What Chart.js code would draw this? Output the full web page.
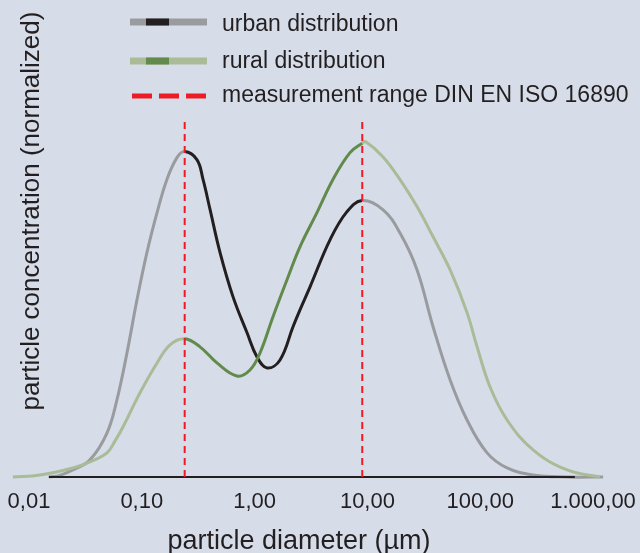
<!DOCTYPE html>
<html>
<head>
<meta charset="utf-8">
<title>particle size distribution</title>
<script src="https://cdn.jsdelivr.net/npm/chart.js@4/dist/chart.umd.min.js"></script>
<style>
  body { margin: 0; background: #d6dde9; }
  canvas { display: block; }
</style>
</head>
<body>
<canvas id="grafica" width="640" height="553"></canvas>
<script>
// x axis: particle diameter in µm (log scale)
const tickValues = [0.01, 0.1, 1, 10, 100, 1000];
const tickLabels = ['0,01', '0,10', '1,00', '10,00', '100,00', '1.000,00'];

const seriesNames = ['urban distribution', 'rural distribution', 'measurement range DIN EN ISO 16890'];
const xTitle = 'particle diameter (µm)';
const yTitle = 'particle concentration (normalized)';

// measurement range DIN EN ISO 16890 (µm)
const measurementRange = [0.24, 9.0];
const measurementHeight = 1.07;

// black base line (µm)
const baselineRange = [0.015, 690];

const urbanDiameter = [0.015, 0.0188, 0.0245, 0.0347, 0.0491, 0.0602, 0.0739, 0.0906, 0.111, 0.1365, 0.167, 0.205,
  0.24, 0.308, 0.349, 0.403, 0.494, 0.644, 0.857, 1.05, 1.29, 1.68, 2.19, 2.53, 3.10, 4.66, 6.59,
  9.0, 13.7, 19.4, 27.5, 38.2, 54.0, 76.4, 115, 173, 294, 589, 1228];
const urbanValue = [0, 0.005, 0.021, 0.051, 0.131, 0.230, 0.370, 0.528, 0.669, 0.788, 0.887, 0.952,
  0.970, 0.946, 0.887, 0.797, 0.669, 0.537, 0.430, 0.358, 0.325, 0.349, 0.448, 0.499, 0.567, 0.707, 0.791,
  0.824, 0.797, 0.728, 0.618, 0.448, 0.290, 0.170, 0.072, 0.027, 0.006, 0, 0];

const ruralDiameter = [0.0072, 0.0125, 0.0245, 0.0347, 0.0491, 0.0578, 0.0681, 0.0964, 0.1365, 0.178,
  0.24, 0.328, 0.464, 0.698, 0.910, 1.117, 1.456, 1.937, 2.53, 3.57, 4.95, 7.01,
  9.0, 9.6, 13.7, 19.4, 27.5, 38.2, 54.0, 76.4, 93.8, 122, 173, 294, 589, 1153];
const ruralValue = [0, 0.006, 0.027, 0.045, 0.072, 0.107, 0.149, 0.251, 0.340, 0.394,
  0.412, 0.388, 0.340, 0.301, 0.319, 0.370, 0.478, 0.588, 0.687, 0.788, 0.887, 0.967,
  0.995, 1.0, 0.955, 0.887, 0.806, 0.716, 0.618, 0.490, 0.388, 0.269, 0.170, 0.081, 0.021, 0];

const bg = '#d6dde9';
const textColor = '#231f20';
const urbanLight = '#9a9b9e';
const urbanDark = '#231f20';
const ruralLight = '#aabb97';
const ruralDark = '#618a4c';
const rangeRed = '#ed1c24';
const fontName = '"Liberation Sans", Arial, Helvetica, sans-serif';

function puntos(xs, ys) {
  return xs.map((x, i) => ({x: x, y: ys[i]}));
}

function colorTramo(light, dark) {
  return ctx => {
    const a = ctx.p0.parsed.x, b = ctx.p1.parsed.x;
    return (a >= measurementRange[0] - 1e-9 && b <= measurementRange[1] + 1e-9) ? dark : light;
  };
}

const fondo = {
  id: 'fondo',
  beforeDraw(chart) {
    const c = chart.ctx;
    c.save();
    c.fillStyle = bg;
    c.fillRect(0, 0, chart.width, chart.height);
    c.restore();
  }
};

// y title and legend drawn on top of the plot area, like the original
const notas = {
  id: 'notas',
  afterDraw(chart) {
    const c = chart.ctx;
    c.save();
    c.fillStyle = textColor;
    c.font = '26px ' + fontName;
    c.textAlign = 'center';
    c.textBaseline = 'alphabetic';
    c.translate(39, 211);
    c.rotate(-Math.PI / 2);
    c.fillText(yTitle, 0, 0);
    c.restore();

    c.save();
    c.lineCap = 'butt';
    const swatches = [[urbanLight, urbanDark], [ruralLight, ruralDark]];
    const lineY = [22, 61, 96];
    const textY = [31, 68, 102];
    swatches.forEach((s, i) => {
      c.lineWidth = 7;
      c.strokeStyle = s[0];
      c.beginPath(); c.moveTo(130, lineY[i]); c.lineTo(207, lineY[i]); c.stroke();
      c.strokeStyle = s[1];
      c.beginPath(); c.moveTo(146, lineY[i]); c.lineTo(169, lineY[i]); c.stroke();
    });
    c.lineWidth = 5;
    c.strokeStyle = rangeRed;
    c.setLineDash([20, 7]);
    c.beginPath(); c.moveTo(132, lineY[2]); c.lineTo(207, lineY[2]); c.stroke();
    c.setLineDash([]);

    c.fillStyle = textColor;
    c.font = '23px ' + fontName;
    c.textAlign = 'left';
    c.textBaseline = 'alphabetic';
    seriesNames.forEach((n, i) => c.fillText(n, 222, textY[i]));
    c.restore();
  }
};

const lineaBase = {
  data: puntos(baselineRange, [0, 0]),
  borderColor: textColor,
  borderWidth: 2,
  pointRadius: 0,
  clip: false
};

const chart = new Chart(document.getElementById('grafica'), {
  type: 'line',
  data: {
    datasets: [
      {
        label: seriesNames[2],
        data: puntos([measurementRange[0], measurementRange[0]], [0, measurementHeight]),
        borderColor: rangeRed,
        borderWidth: 2,
        borderDash: [7, 5],
        pointRadius: 0,
        clip: false
      },
      {
        label: seriesNames[2],
        data: puntos([measurementRange[1], measurementRange[1]], [0, measurementHeight]),
        borderColor: rangeRed,
        borderWidth: 2,
        borderDash: [7, 5],
        pointRadius: 0,
        clip: false
      },
      lineaBase,
      {
        label: seriesNames[1],
        data: puntos(ruralDiameter, ruralValue),
        borderColor: ruralLight,
        borderWidth: 3,
        pointRadius: 0,
        tension: 0.4,
        segment: { borderColor: colorTramo(ruralLight, ruralDark) },
        clip: false
      },
      {
        label: seriesNames[0],
        data: puntos(urbanDiameter, urbanValue),
        borderColor: urbanLight,
        borderWidth: 3,
        pointRadius: 0,
        tension: 0.4,
        segment: { borderColor: colorTramo(urbanLight, urbanDark) },
        clip: false
      }
    ]
  },
  options: {
    responsive: false,
    animation: false,
    layout: { padding: { left: 0, right: 42, top: 108, bottom: 0 } },
    plugins: {
      legend: { display: false },
      tooltip: { enabled: false }
    },
    scales: {
      x: {
        type: 'logarithmic',
        min: 0.005534,
        max: 1106.6,
        grid: { display: true, drawOnChartArea: false, drawTicks: true, tickLength: 12, tickColor: 'rgba(0,0,0,0)' },
        border: { display: false },
        afterBuildTicks: s => { s.ticks = tickValues.map(v => ({value: v})); },
        afterFit: s => { s.height = 76; },
        ticks: {
          autoSkip: false,
          maxRotation: 0,
          padding: 0,
          color: textColor,
          font: { family: fontName, size: 22 },
          callback: (v, i) => tickLabels[i]
        },
        title: {
          display: true,
          text: xTitle,
          color: textColor,
          font: { family: fontName, size: 27 },
          padding: { top: 0, bottom: -5 }
        }
      },
      y: {
        display: false,
        min: 0,
        max: 1.1
      }
    }
  },
  plugins: [fondo, notas]
});
</script>
</body>
</html>
